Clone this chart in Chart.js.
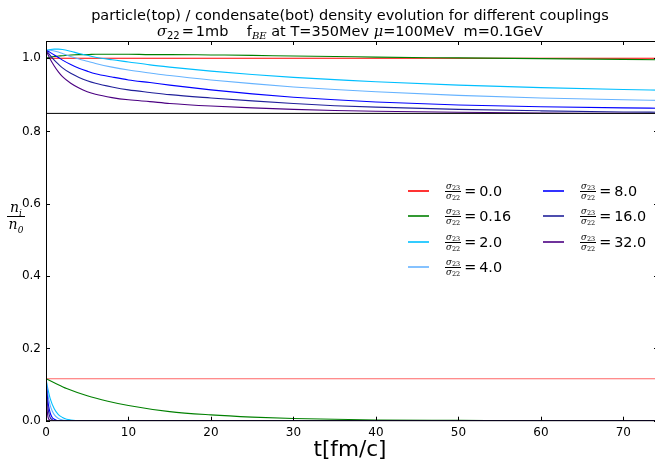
<!DOCTYPE html>
<html>
<head>
<meta charset="utf-8">
<script src="https://cdn.jsdelivr.net/npm/chart.js@4.4.1/dist/chart.umd.min.js"></script>
<style>
  html, body { margin: 0; padding: 0; overflow: hidden; background: #fff; }
  #wrap { position: relative; width: 662px; height: 463px; font-family: "DejaVu Sans", sans-serif; color: #000; }
  #c { position: absolute; left: 0; top: 0; }
  .ttl { position: absolute; left: 350px; transform: translateX(-50%); white-space: nowrap; font-size: 14.5px; line-height: 16px; }
  .ttl i { font-family: "DejaVu Serif", serif; font-style: italic; }
  .ttl sub { font-size: 10px; vertical-align: -3px; line-height: 0; }
  .ttl .m { margin: 0 2px; }
  .xlab { position: absolute; left: 350px; top: 437px; transform: translateX(-50%); font-size: 21.6px; line-height: 24px; white-space: nowrap; }
  .ylab { position: absolute; left: 7px; top: 200px; width: 18px; text-align: center; font-size: 14px; line-height: 15px; font-family: "DejaVu Serif", serif; font-style: italic; }
  .ylab .n { display: block; border-bottom: 1.3px solid #000; padding-bottom: 1px; }
  .ylab sub { font-size: 9px; line-height: 0; }
  .leg { position: absolute; height: 24px; display: flex; align-items: center; white-space: nowrap; font-size: 14.4px; }
  .leg .sw { width: 21px; height: 2px; margin-right: 16px; opacity: 0.8; }
  .frac { display: inline-block; vertical-align: middle; text-align: center; font-size: 8.6px; line-height: 9px; font-family: "DejaVu Serif", serif; font-style: italic; }
  .frac span { display: block; padding: 0 1px; }
  .frac .num { border-bottom: 0.8px solid #000; }
  .frac sub { font-size: 6.5px; line-height: 0; font-style: normal; vertical-align: -1px; }
  .eq { margin: 0 3px 0 3px; }
</style>
</head>
<body>
<div id="wrap">
  <canvas id="c" width="662" height="463"></canvas>
  <div class="ttl" style="top:7px">particle(top) / condensate(bot) density evolution for different couplings</div>
  <div class="ttl" style="top:23px"><i>σ</i><sub>22</sub><span class="m">=</span>1mb&nbsp;&nbsp;&nbsp; f<sub><i>BE</i></sub> at T=350Mev <i>μ</i>=100MeV&nbsp; m=0.1GeV</div>
  <div class="ylab"><span class="n">n<sub>i</sub></span><span>n<sub>0</sub></span></div>
  <div class="xlab">t[fm/c]</div>
  <div id="legend"></div>
</div>
<script>
// coupling ratios sigma23/sigma22, one series each
const couplings = ['0.0', '0.16', '2.0', '4.0', '8.0', '16.0', '32.0'];

// top panel: particle density n_i/n_0
const tTop = [0, 0.5, 1, 1.5, 2, 3, 4, 5, 6, 8, 10, 12.6, 15, 20, 25, 30, 35, 40, 50, 60, 70, 75];
const topRed = [1.0, 1.0, 1.0, 1.0, 1.0, 1.0, 1.0, 1.0, 1.0, 1.0, 1.0, 1.0, 1.0, 1.0, 1.0, 1.0, 1.0, 1.0, 1.0, 1.0, 1.0, 1.0];
const topGreen = [1.000, 1.003, 1.005, 1.006, 1.007, 1.009, 1.010, 1.010, 1.011, 1.011, 1.011, 1.010, 1.010, 1.009, 1.008, 1.006, 1.005, 1.003, 1.001, 0.999, 0.997, 0.996];
const topCyan = [1.022, 1.024, 1.025, 1.025, 1.024, 1.019, 1.013, 1.008, 1.003, 0.996, 0.990, 0.982, 0.976, 0.965, 0.956, 0.948, 0.942, 0.936, 0.927, 0.920, 0.915, 0.913];
const topLight = [1.022, 1.022, 1.020, 1.017, 1.013, 1.005, 0.998, 0.992, 0.986, 0.976, 0.968, 0.960, 0.953, 0.941, 0.931, 0.922, 0.915, 0.909, 0.899, 0.892, 0.887, 0.885];
const topBlue = [1.022, 1.016, 1.009, 1.002, 0.995, 0.983, 0.973, 0.965, 0.958, 0.949, 0.941, 0.934, 0.927, 0.914, 0.903, 0.894, 0.887, 0.881, 0.873, 0.868, 0.865, 0.864];
const topNavy = [1.022, 1.008, 0.995, 0.984, 0.974, 0.959, 0.948, 0.939, 0.932, 0.922, 0.914, 0.907, 0.901, 0.892, 0.884, 0.877, 0.871, 0.867, 0.861, 0.857, 0.854, 0.853];
const topPurple = [1.022, 0.998, 0.979, 0.963, 0.950, 0.932, 0.919, 0.909, 0.902, 0.893, 0.887, 0.882, 0.877, 0.870, 0.865, 0.861, 0.858, 0.856, 0.853, 0.851, 0.850, 0.849];

// bottom panel: condensate density
const tBotRed = [0, 75];
const botRed = [0.116, 0.116];
const tBotGreen = [0, 1, 2.5, 5, 7.5, 10, 15, 20, 25, 30, 35, 40, 50, 60, 75];
const botGreen = [0.116, 0.105, 0.089, 0.069, 0.054, 0.042, 0.025, 0.016, 0.010, 0.006, 0.004, 0.002, 0.001, 0, 0];
const tBotCyan = [0, 0.25, 0.5, 1, 1.5, 2, 2.5, 3, 4, 75];
const botCyan = [0.116, 0.085, 0.062, 0.033, 0.017, 0.009, 0.004, 0.002, 0, 0];
const tBotLight = [0, 0.25, 0.5, 0.75, 1, 1.5, 2, 3, 75];
const botLight = [0.116, 0.07, 0.043, 0.027, 0.017, 0.006, 0.002, 0, 0];
const tBotBlue = [0, 0.15, 0.3, 0.5, 0.75, 1, 1.5, 75];
const botBlue = [0.116, 0.07, 0.043, 0.022, 0.009, 0.004, 0, 0];
const tBotNavy = [0, 0.1, 0.2, 0.35, 0.5, 0.75, 1, 75];
const botNavy = [0.116, 0.07, 0.043, 0.02, 0.009, 0.003, 0, 0];
const tBotPurple = [0, 0.05, 0.1, 0.2, 0.3, 0.5, 0.75, 75];
const botPurple = [0.116, 0.07, 0.043, 0.016, 0.006, 0.001, 0, 0];

const xTicks = [0, 10, 20, 30, 40, 50, 60, 70];
const yBotTicks = [0.0, 0.2, 0.4, 0.6, 0.8];
const yTopTicks = [1.0];

const colors = ['#ff0000', '#008000', '#00bfff', '#66b3ff', '#0000ff', '#20209a', '#4b0082'];
const botColors = ['#ff6666', '#008000', '#00bfff', '#66b3ff', '#0000ff', '#20209a', '#4b0082'];

const topSeries = [topRed, topGreen, topCyan, topLight, topBlue, topNavy, topPurple];
const botT = [tBotRed, tBotGreen, tBotCyan, tBotLight, tBotBlue, tBotNavy, tBotPurple];
const botSeries = [botRed, botGreen, botCyan, botLight, botBlue, botNavy, botPurple];

const toXY = (ts, ys) => ts.map((t, i) => ({ x: t, y: ys[i] }));

const datasets = [];
topSeries.forEach((vals, i) => {
    datasets.push({
        data: toXY(tTop, vals), yAxisID: 'yTop', borderColor: colors[i],
        borderWidth: 1.1, pointRadius: 0, cubicInterpolationMode: 'monotone', order: 20 - i,
    });
});
botSeries.forEach((vals, i) => {
    datasets.push({
        data: toXY(botT[i], vals), yAxisID: 'yBot', borderColor: botColors[i],
        borderWidth: 1.1, pointRadius: 0, cubicInterpolationMode: 'monotone', order: 10 - i,
    });
});

// frame + inward ticks like matplotlib classic
const framePlugin = {
    id: 'frame',
    afterDraw(chart) {
        const ctx = chart.ctx;
        const x = chart.scales.x, yt = chart.scales.yTop, yb = chart.scales.yBot;
        const L = chart.chartArea.left, R = chart.chartArea.right;
        const tk = 4;
        ctx.save();
        ctx.strokeStyle = '#000';
        ctx.lineWidth = 1;
        ctx.beginPath();
        ctx.moveTo(L, yt.top + 0.5); ctx.lineTo(R, yt.top + 0.5);
        ctx.moveTo(L, yt.bottom); ctx.lineTo(R, yt.bottom);
        ctx.moveTo(L, yb.bottom); ctx.lineTo(R, yb.bottom);
        ctx.moveTo(L + 0.5, yt.top); ctx.lineTo(L + 0.5, yb.bottom);
        xTicks.forEach(v => {
            const px = Math.round(x.getPixelForValue(v)) + 0.5;
            ctx.moveTo(px, yb.bottom); ctx.lineTo(px, yb.bottom - tk);
            ctx.moveTo(px, yt.top); ctx.lineTo(px, yt.top + tk);
        });
        yBotTicks.forEach(v => {
            const py = Math.round(yb.getPixelForValue(v)) + 0.5;
            ctx.moveTo(L, py); ctx.lineTo(L + tk, py);
            ctx.moveTo(R, py); ctx.lineTo(R - tk, py);
        });
        yTopTicks.forEach(v => {
            const py = Math.round(yt.getPixelForValue(v)) + 0.5;
            ctx.moveTo(L, py); ctx.lineTo(L + tk, py);
            ctx.moveTo(R, py); ctx.lineTo(R - tk, py);
        });
        ctx.stroke();
        ctx.restore();
    },
};

const tickFont = { family: 'DejaVu Sans', size: 12 };
const fixedTicks = (list) => (scale) => { scale.ticks = list.map(v => ({ value: v })); };

new Chart(document.getElementById('c'), {
    type: 'line',
    data: { datasets },
    options: {
        responsive: false,
        animation: false,
        layout: { padding: { top: 41, right: 4, left: 0, bottom: 0 } },
        plugins: { legend: { display: false }, tooltip: { enabled: false } },
        scales: {
            x: {
                type: 'linear', min: 0, max: 74.2,
                afterBuildTicks: fixedTicks(xTicks),
                afterFit: (s) => { s.height = 42.3; },
                grid: { display: false, drawTicks: false }, border: { display: false },
                ticks: { font: tickFont, color: '#000', padding: 5, maxRotation: 0, autoSkip: false, callback: (v) => String(v) },
            },
            yBot: {
                type: 'linear', position: 'left', stack: 'panels', stackWeight: 307.3, min: 0, max: 0.85,
                afterBuildTicks: fixedTicks(yBotTicks),
                afterFit: (s) => { s.width = 46; },
                grid: { display: false, drawTicks: false }, border: { display: false },
                ticks: { font: tickFont, color: '#000', padding: 5, callback: (v) => v.toFixed(1) },
            },
            yTop: {
                type: 'linear', position: 'left', stack: 'panels', stackWeight: 72.4, min: 0.85, max: 1.047,
                afterBuildTicks: fixedTicks(yTopTicks),
                afterFit: (s) => { s.width = 46; },
                grid: { display: false, drawTicks: false }, border: { display: false },
                ticks: { font: tickFont, color: '#000', padding: 5, callback: (v) => v.toFixed(1) },
            },
        },
    },
    plugins: [framePlugin],
});

// legend, two columns like the reference
const legendEl = document.getElementById('legend');
const legPos = [[408, 191], [408, 216], [408, 242], [408, 267], [543, 191], [543, 216], [543, 242]];
couplings.forEach((c, i) => {
    const row = document.createElement('div');
    row.className = 'leg';
    row.style.left = legPos[i][0] + 'px';
    row.style.top = (legPos[i][1] - 12) + 'px';
    row.innerHTML = '<span class="sw" style="background:' + colors[i] + '"></span>' +
        '<span class="frac"><span class="num">σ<sub>23</sub></span><span>σ<sub>22</sub></span></span>' +
        '<span class="eq">=</span><span>' + c + '</span>';
    legendEl.appendChild(row);
});
</script>
</body>
</html>
